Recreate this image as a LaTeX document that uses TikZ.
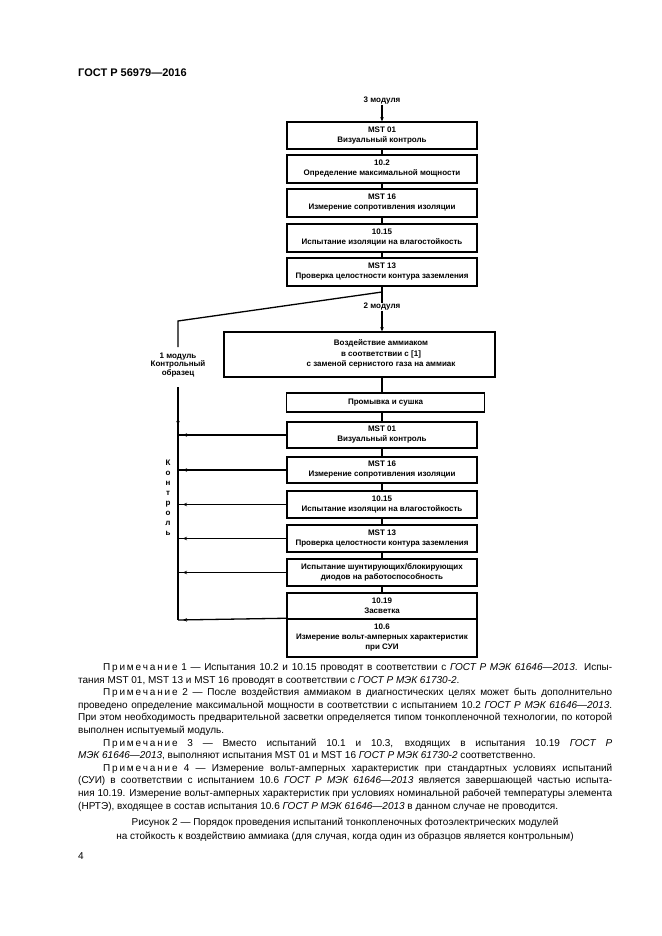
\documentclass[tikz,border=0pt]{standalone}
\usepackage{fontspec}
\setmainfont{Liberation Sans}
\usetikzlibrary{arrows.meta,decorations.markings}
\newcommand\primech{П\kern1.8pt р\kern1.8pt и\kern1.8pt м\kern1.8pt е\kern1.8pt ч\kern1.8pt а\kern1.8pt н\kern1.8pt и\kern1.8pt е}
\newcommand\nfont{\fontsize{10}{12.6}\selectfont}
\newcommand\bxfont{\fontsize{8}{10}\selectfont\bfseries}
\begin{document}
\begin{tikzpicture}[x=1pt,y=-1pt,
  tbox/.style={draw, line width=1.5pt, inner sep=0pt, align=center, font=\bxfont},
  conn/.style={line width=1.3pt},
  lbl/.style={inner sep=0pt, align=center, font=\bxfont},
  tick/.style={postaction=decorate, decoration={markings,
      mark=at position -5pt with {\arrow{Stealth[length=4pt,width=3.5pt]}}}},
  downtick/.style={postaction=decorate, decoration={markings,
      mark=at position 38pt with {\arrow{Stealth[length=4pt,width=3.5pt]}}}},
  nline/.style={anchor=base west, inner sep=0pt, font=\nfont}
]
\useasboundingbox[fill=white] (0,0) rectangle (661,936);

% header
\node[anchor=base west, inner sep=0pt, font=\fontsize{11}{13}\selectfont\bfseries] (hdr) at (78,77) {ГОСТ Р 56979—2016};

% top chain
\node[lbl] (m3) at (382,101) {3 модуля};
\node[tbox, minimum width=190pt, minimum height=27pt] (b1) at (382,135.5) {MST 01\\Визуальный контроль};
\node[tbox, minimum width=190pt, minimum height=28pt] (b2) at (382,169) {10.2\\Определение максимальной мощности};
\node[tbox, minimum width=190pt, minimum height=28pt] (b3) at (382,203) {MST 16\\Измерение сопротивления изоляции};
\node[tbox, minimum width=190pt, minimum height=28pt] (b4) at (382,238) {10.15\\Испытание изоляции на влагостойкость};
\node[tbox, minimum width=190pt, minimum height=28pt] (b5) at (382,272) {MST 13\\Проверка целостности контура заземления};

\node[lbl] (m2) at (382,307) {2 модуля};
\coordinate (sp) at (382,292);
\coordinate (lt) at (178,321);
\node[lbl, font=\fontsize{8}{8.7}\selectfont\bfseries] (m1) at (178,365) {1 модуль\\Контрольный\\образец};
\coordinate (la) at (178,347);
\coordinate (lc) at (178,387);
\coordinate (lb) at (178,620);

\node[tbox, minimum width=271pt, minimum height=45pt] (b6) at (359.5,354.5) {};
\node[lbl, font=\fontsize{8}{10.5}\selectfont\bfseries] (t6) at (381,354) {Воздействие аммиаком\\в соответствии с [1]\\с заменой сернистого газа на аммиак};
\node[tbox, minimum width=198pt, minimum height=19pt] (b7) at (385.5,402.5) {Промывка и сушка};

\node[tbox, minimum width=190pt, minimum height=26pt] (b8) at (382,435) {MST 01\\Визуальный контроль};
\node[tbox, minimum width=190pt, minimum height=26pt] (b9) at (382,470) {MST 16\\Измерение сопротивления изоляции};
\node[tbox, minimum width=190pt, minimum height=27pt] (b10) at (382,504.5) {10.15\\Испытание изоляции на влагостойкость};
\node[tbox, minimum width=190pt, minimum height=27pt] (b11) at (382,538.5) {MST 13\\Проверка целостности контура заземления};
\node[tbox, minimum width=190pt, minimum height=27pt] (b12) at (382,572.5) {Испытание шунтирующих/блокирующих\\диодов на работоспособность};
\node[tbox, minimum width=190pt, minimum height=26pt] (b13) at (382,606) {10.19\\Засветка};
\node[tbox, minimum width=190pt, minimum height=38pt] (b14) at (382,638) {10.6\\Измерение вольт-амперных характеристик\\при СУИ};

\coordinate (mx) at (382,0);

% connectors
\draw[conn,-{Stealth[length=4pt,width=3.5pt]}] (m3.south) -- (b1.north);
\draw[conn] (b1) -- (b2);
\draw[conn] (b2) -- (b3);
\draw[conn] (b3) -- (b4);
\draw[conn] (b4) -- (b5);
\draw[conn] (b5.south) -- (m2.north);
\draw[conn] (sp) -- (lt) -- (la);
\draw[conn,-{Stealth[length=4pt,width=3.5pt]}] (m2.south) -- (m2.south |- b6.north);
\draw[conn] (mx |- b6.south) -- (mx |- b7.north);
\draw[conn] (mx |- b7.south) -- (b8.north);
\draw[conn] (b8) -- (b9);
\draw[conn] (b9) -- (b10);
\draw[conn] (b10) -- (b11);
\draw[conn] (b11) -- (b12);
\draw[conn] (b12) -- (b13);
\draw[conn,downtick] (lc) -- (lb);
\foreach \b in {b8,b9,b10,b11,b12}{
  \draw[conn,tick] (\b.west) -- (\b.west -| lb);
}
\draw[conn,tick] (b14.north west) -- (lb);

% vertical label
\node[lbl, font=\fontsize{8}{10}\selectfont\bfseries] (kontr) at (168,498) {К\\о\\н\\т\\р\\о\\л\\ь};

% notes
\node[nline] (n1) at (103,670.5) {\hbox to 509pt{\primech\ 1 — Испытания 10.2 и 10.15 проводят в соответствии с \textit{ГОСТ Р МЭК 61646—2013}. Испы-}};
\node[nline] (n2) at (78,683.1) {тания MST 01, MST 13 и MST 16 проводят в соответствии с \textit{ГОСТ Р МЭК 61730-2}.};
\node[nline] (n3) at (103,695.7) {\hbox to 509pt{\primech\ 2 — После воздействия аммиаком в диагностических целях может быть дополнительно}};
\node[nline] (n4) at (78,708.3) {\hbox to 534pt{проведено определение максимальной мощности в соответствии с испытанием 10.2 \textit{ГОСТ Р МЭК 61646—2013}.}};
\node[nline] (n5) at (78,720.9) {\hbox to 534pt{При этом необходимость предварительной засветки определяется типом тонкопленочной технологии, по которой}};
\node[nline] (n6) at (78,733.5) {выполнен испытуемый модуль.};
\node[nline] (n7) at (103,746.1) {\hbox to 509pt{\primech\ 3 — Вместо испытаний 10.1 и 10.3, входящих в испытания 10.19 \textit{ГОСТ Р}}};
\node[nline] (n8) at (78,758.7) {\textit{МЭК 61646—2013}, выполняют испытания MST 01 и MST 16 \textit{ГОСТ Р МЭК 61730-2} соответственно.};
\node[nline] (n9) at (103,771.3) {\hbox to 509pt{\primech\ 4 — Измерение вольт-амперных характеристик при стандартных условиях испытаний}};
\node[nline] (n10) at (78,783.9) {\hbox to 534pt{(СУИ) в соответствии с испытанием 10.6 \textit{ГОСТ Р МЭК 61646—2013} является завершающей частью испыта-}};
\node[nline] (n11) at (78,796.5) {\hbox to 534pt{ния 10.19. Измерение вольт-амперных характеристик при условиях номинальной рабочей температуры элемента}};
\node[nline] (n12) at (78,809.1) {(НРТЭ), входящее в состав испытания 10.6 \textit{ГОСТ Р МЭК 61646—2013} в данном случае не проводится.};

% caption
\node[anchor=base, inner sep=0pt, font=\nfont] (cap1) at (345,825.5) {Рисунок 2 — Порядок проведения испытаний тонкопленочных фотоэлектрических модулей};
\node[anchor=base, inner sep=0pt, font=\nfont] (cap2) at (345,839.5) {на стойкость к воздействию аммиака (для случая, когда один из образцов является контрольным)};

\node[anchor=base west, inner sep=0pt, font=\nfont] (pg) at (78,859) {4};
\end{tikzpicture}
\end{document}
